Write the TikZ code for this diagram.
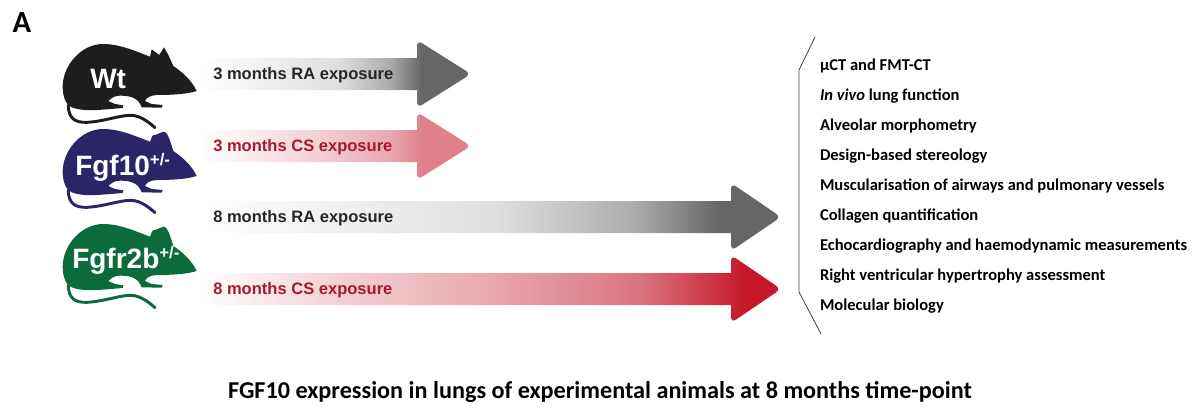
\documentclass[tikz,border=0pt]{standalone}
\usepackage{fontspec}
\setmainfont{Carlito}
\newfontfamily\arialfont{Liberation Sans}
\usetikzlibrary{positioning}

\definecolor{ratblack}{HTML}{1D1D1B}
\definecolor{ratblue}{HTML}{2B2567}
\definecolor{ratgreen}{HTML}{0B6B3A}
\definecolor{labdark}{HTML}{262626}
\definecolor{labred}{HTML}{A6192E}
\definecolor{headgrey}{HTML}{666665}
\definecolor{greyA}{HTML}{DFDFDF}
\definecolor{greyB}{HTML}{ABABAB}
\definecolor{headpink}{HTML}{E0818A}
\definecolor{pinkA}{HTML}{F3D0D4}
\definecolor{pinkB}{HTML}{E8A8AE}
\definecolor{pinkC}{HTML}{DC7680}
\definecolor{headred}{HTML}{C4182A}

\pgfdeclarehorizontalshading{rashort}{100bp}{color(0bp)=(white); color(25bp)=(white); color(50.7bp)=(greyA); color(60bp)=(greyB); color(65.9bp)=(headgrey); color(100bp)=(headgrey)}
\pgfdeclarehorizontalshading{csshort}{100bp}{color(0bp)=(white); color(25bp)=(white); color(46.9bp)=(pinkA); color(60.2bp)=(pinkB); color(65.9bp)=(headpink); color(100bp)=(headpink)}
\pgfdeclarehorizontalshading{ralong}{100bp}{color(0bp)=(white); color(25bp)=(white); color(50.5bp)=(greyA); color(62.6bp)=(greyB); color(69.6bp)=(headgrey); color(100bp)=(headgrey)}
\pgfdeclarehorizontalshading{cslong}{100bp}{color(0bp)=(white); color(25bp)=(white); color(37bp)=(pinkA); color(50bp)=(pinkB); color(62.6bp)=(pinkC); color(72bp)=(headred); color(100bp)=(headred)}

% #1 shading, #2 head base x, #3 tip x, #4 middle y
\newcommand{\exparrow}[4]{%
    \shade[shading=#1] (200,#4-16) -- (#2,#4-16) [rounded corners=4.5] -- (#2,#4-34) -- (#3+3,#4) -- (#2,#4+34) [sharp corners] -- (#2,#4+16) -- (200,#4+16) -- cycle;
}
\newcommand{\hetsup}{\raisebox{7.5pt}{\fontsize{12.6}{12.6}\selectfont +/-}}
% #1 colour, #2 ears
\newcommand{\ratshape}[2]{%
    \begin{scope}[scale=1/3]
        \fill[#1] (470,183) .. controls (455,150) and (425,125) .. (400,108)
            #2
            .. controls (290,65) and (240,42) .. (190,42)
            .. controls (120,42) and (68,110) .. (68,170)
            .. controls (68,200) and (78,225) .. (95,232)
            .. controls (130,245) and (170,240) .. (200,238)
            -- (248,234) -- (250,226) -- (225,222) -- (205,213)
            .. controls (215,203) and (225,197) .. (240,197)
            .. controls (275,197) and (295,205) .. (305,232)
            -- (365,233) -- (368,225) -- (335,222) -- (315,213) -- (320,205)
            .. controls (330,198) and (340,195) .. (350,195)
            .. controls (390,195) and (440,193) .. (470,183) -- cycle;
        \draw[#1, line width=2.2pt, line cap=round] (85,225)
            .. controls (85,265) and (105,278) .. (140,277)
            .. controls (190,275) and (240,255) .. (275,256)
            .. controls (305,258) and (330,280) .. (345,293);
    \end{scope}
}

\begin{document}
\begin{tikzpicture}[
    x=0.75pt, y=-0.75pt,
    ratname/.style={text=white, inner sep=0pt, anchor=base west, font=\arialfont\bfseries\fontsize{21}{21}\selectfont},
    explabel/.style={inner sep=0pt, anchor=west, font=\arialfont\bfseries\fontsize{12.4}{12.4}\selectfont},
    readout/.style={inner sep=0pt, outer sep=0pt, anchor=north west, minimum height=22.5pt, text=black, font=\bfseries\fontsize{12.4}{13}\selectfont},
    rat/.pic={\ratshape{#1}{-- (385,75) -- (372,52) -- (358,75) -- (335,58) -- (330,80)}},
    softrat/.pic={\ratshape{#1}{.. controls (392,85) and (385,50) .. (370,50) .. controls (360,50) and (355,60) .. (345,60) .. controls (335,58) and (335,70) .. (330,80)}}
]
    \useasboundingbox (0,0) rectangle (1199,407);

    \node[inner sep=0pt, font=\bfseries\fontsize{23}{23}\selectfont] (panel) at (22,23) {A};

    % rats
    \pic (wtrat) at (40,30) {rat=ratblack};
    \pic (hetrat) at (40,115) {softrat=ratblue};
    \pic (recrat) at (40,210) {softrat=ratgreen};
    \node[ratname] (wt) at (90,88) {Wt};
    \node[ratname] (fgf) at (75,175) {Fgf10\hetsup};
    \node[ratname] (fgfr) at (72,268) {Fgfr2b\hetsup};

    % exposure arrows
    \exparrow{rashort}{417}{468}{74}
    \exparrow{csshort}{417}{468}{146}
    \exparrow{ralong}{731}{778}{217}
    \exparrow{cslong}{731}{778}{289}
    \node[explabel, text=labdark] (ra3) at (213,75) {3 months RA exposure};
    \node[explabel, text=labred] (cs3) at (213,147) {3 months CS exposure};
    \node[explabel, text=labdark] (ra8) at (213,218) {8 months RA exposure};
    \node[explabel, text=labred] (cs8) at (213,290) {8 months CS exposure};

    % bracket
    \draw[line width=0.6pt, black!75] (815,37) -- (799,70) -- (799,292) -- (821,334);

    % readouts
    \node[readout] (ct) at (820,51) {µCT and FMT-CT};
    \node[readout, below=0pt of ct.south west, anchor=north west] (func) {\textit{In vivo} lung function};
    \node[readout, below=0pt of func.south west, anchor=north west] (morph) {Alveolar morphometry};
    \node[readout, below=0pt of morph.south west, anchor=north west] (stereo) {Design-based stereology};
    \node[readout, below=0pt of stereo.south west, anchor=north west] (musc) {Muscularisation of airways and pulmonary vessels};
    \node[readout, below=0pt of musc.south west, anchor=north west] (coll) {Collagen quantification};
    \node[readout, below=0pt of coll.south west, anchor=north west] (echo) {Echocardiography and haemodynamic measurements};
    \node[readout, below=0pt of echo.south west, anchor=north west] (rv) {Right ventricular hypertrophy assessment};
    \node[readout, below=0pt of rv.south west, anchor=north west] (mol) {Molecular biology};

    \node[inner sep=0pt, font=\bfseries\fontsize{18.15}{20}\selectfont] (title) at (600,392) {FGF10 expression in lungs of experimental animals at 8 months time-point};
\end{tikzpicture}
\end{document}
